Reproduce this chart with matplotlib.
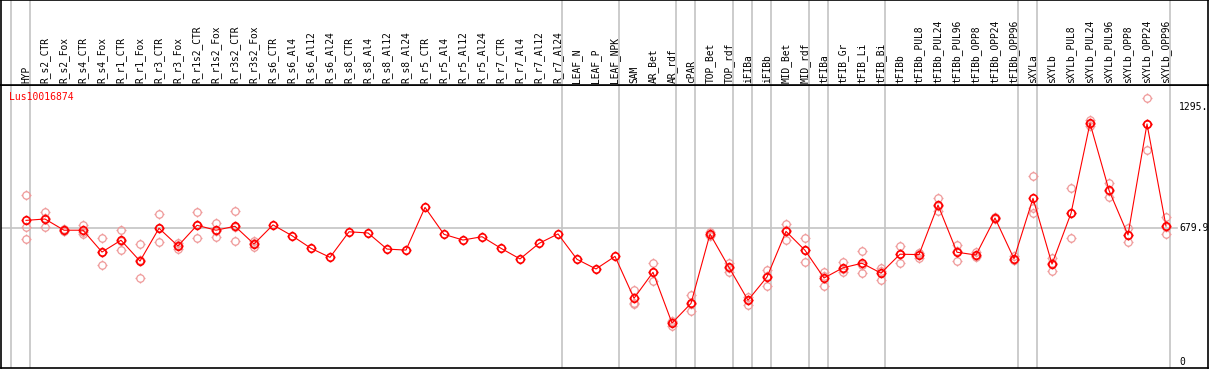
import numpy as np
import matplotlib
matplotlib.use("Agg")
import matplotlib.pyplot as plt
from matplotlib.path import Path
from matplotlib.transforms import blended_transform_factory

samples = ["HYP", "R_s2_CTR", "R_s2_Fox", "R_s4_CTR", "R_s4_Fox", "R_r1_CTR", "R_r1_Fox",
           "R_r3_CTR", "R_r3_Fox", "R_r1s2_CTR", "R_r1s2_Fox", "R_r3s2_CTR", "R_r3s2_Fox",
           "R_s6_CTR", "R_s6_Al4", "R_s6_Al12", "R_s6_Al24", "R_s8_CTR", "R_s8_Al4",
           "R_s8_Al12", "R_s8_Al24", "R_r5_CTR", "R_r5_Al4", "R_r5_Al12", "R_r5_Al24",
           "R_r7_CTR", "R_r7_Al4", "R_r7_Al12", "R_r7_Al24", "LEAF_N", "LEAF_P", "LEAF_NPK",
           "SAM", "AR_Bet", "AR_rdf", "cPAR", "TOP_Bet", "TOP_rdf", "iFIBa", "iFIBb",
           "MID_Bet", "MID_rdf", "tFIBa", "tFIB_Gr", "tFIB_Li", "tFIB_Bi", "tFIBb",
           "tFIBb_PUL8", "tFIBb_PUL24", "tFIBb_PUL96", "tFIBb_OPP8", "tFIBb_OPP24",
           "tFIBb_OPP96", "sXYLa", "sXYLb", "sXYLb_PUL8", "sXYLb_PUL24", "sXYLb_PUL96",
           "sXYLb_OPP8", "sXYLb_OPP24", "sXYLb_OPP96"]

mean_expr = [720, 727, 670, 670, 559, 619, 513, 680, 590, 695, 670, 690, 600,
             697, 642, 578, 532, 662, 656, 574, 569, 786, 649, 620, 637,
             578, 524, 603, 651, 522, 473, 537,
             324, 456, 198, 298, 651, 481, 314, 432, 664, 568, 427, 479, 502, 452, 548,
             546, 798, 558, 544, 732, 525, 832, 498, 756, 1214, 873, 646, 1210, 691]

nan = np.nan
rep1 = [847, 761, 675, 698, 629, 671, 598, 751, 603, 761, 708, 768, 603,
        nan, nan, nan, nan, nan, nan, nan, nan, nan, nan, nan, nan,
        nan, nan, nan, nan, nan, nan, nan,
        366, 503, 185, 339, 662, 505, 332, 468, 702, 629, 458, 508, 563, 476, 591,
        556, 834, 595, 559, 737, 539, 947, 530, 883, 1230, 909, 683, 1341, 737]
rep2 = [688, 688, 668, 649, 492, 568, 426, 609, 575, 629, 634, 615, 583,
        nan, nan, nan, nan, nan, nan, nan, nan, nan, nan, nan, nan,
        nan, nan, nan, nan, nan, nan, nan,
        295, 410, 203, 261, 646, 459, 290, 388, 622, 507, 388, 459, 451, 418, 502,
        527, 768, 513, 535, 727, 517, 783, 461, 629, 1201, 840, 609, 1078, 651]
rep3 = [624, 732, 667, 661, 559, 617, 519, 681, 595, 697, 666, 686, 613,
        nan, nan, nan, nan, nan, nan, nan, nan, nan, nan, nan, nan,
        nan, nan, nan, nan, nan, nan, nan,
        300, 458, 208, 295, 643, 480, 315, 435, 671, 568, 436, 473, 491, 463, 549,
        554, 793, 564, 537, 732, 520, 759, 503, 756, 1208, 869, 646, 1212, 686]

group_ends = [-1, 0, 28, 31, 34, 35, 37, 38, 39, 41, 42, 45, 52, 53, 60]
gene_name = "Lus10016874"
tick_values = [1295, 679.9, 0]
tick_texts = ["1295.", "679.9", "0"]

W, H = 1209, 370
fig = plt.figure(figsize=(W / 100, H / 100), dpi=100)
fig.patch.set_facecolor("white")

px_left, px_right = 1, 1208
px_top, px_mid, px_bot = 0, 85, 368
x0, dx = 26, 19
y0, ky = 362, 0.1967

def fx(px):
    return px / W

def fy(py):
    return 1 - py / H

ax = fig.add_axes([fx(px_left), fy(px_bot), fx(px_right - px_left), (px_bot - px_mid) / H])
hx = fig.add_axes([fx(px_left), fy(px_mid), fx(px_right - px_left), (px_mid - px_top) / H], sharex=ax)

xlim = ((px_left - x0) / dx, (px_right - x0) / dx)
ax.set_xlim(*xlim)
ax.set_ylim((y0 - px_bot) / ky, (y0 - px_mid) / ky)
hx.set_ylim(0, 1)

for a in (ax, hx):
    a.set_xticks([])
    a.set_yticks([])
    a.tick_params(left=False, bottom=False, labelleft=False, labelbottom=False)
    for s in a.spines.values():
        s.set_color("black")
        s.set_linewidth(1.2)

gray = "#c4c4c4"
for g in group_ends:
    for a in (ax, hx):
        a.axvline(g + 0.22, color=gray, lw=1.2, zorder=0)

ax.axhline(tick_values[1], xmin=0, xmax=(1177 - px_left) / (px_right - px_left),
           color=gray, lw=1.2, zorder=0)

# custom marker: circle with small ticks
circ = Path.unit_circle()
ticks = []
for ang in [0, 90, 180, 270]:
    a_ = np.deg2rad(ang)
    ticks.append(Path([(np.cos(a_), np.sin(a_)), (1.35 * np.cos(a_), 1.35 * np.sin(a_))],
                      [Path.MOVETO, Path.LINETO]))
gear = Path.make_compound_path(circ, *ticks)

x = np.arange(len(samples))
for r in (rep1, rep2, rep3):
    ax.plot(x, r, linestyle="none", marker=gear, markersize=7.2,
            markerfacecolor="none", markeredgecolor="#ef9a9a", markeredgewidth=0.9, zorder=2)

ax.plot(x, mean_expr, color="red", lw=0.8, zorder=3)
ax.plot(x, mean_expr, linestyle="none", marker=gear, markersize=7.2,
        markerfacecolor="none", markeredgecolor="red", markeredgewidth=1.2, zorder=4)

mono = "DejaVu Sans Mono"
for i, s in enumerate(samples):
    hx.text(i, (px_mid - 83) / (px_mid - px_top), s, rotation=90, ha="center", va="bottom",
            fontsize=6.9, family=mono, color="black")

ax.text((9 - px_left) / (px_right - px_left), (px_bot - 97) / (px_bot - px_mid), gene_name,
        transform=ax.transAxes, ha="left", va="center", fontsize=7, family=mono, color="red")

tr = blended_transform_factory(ax.transAxes, ax.transData)
for v, t in zip(tick_values, tick_texts):
    ax.text((1179 - px_left) / (px_right - px_left), v, t, transform=tr, ha="left",
            va="center", fontsize=7, family=mono, color="black", clip_on=False)

fig.savefig("out.png", dpi=100, facecolor="white")
